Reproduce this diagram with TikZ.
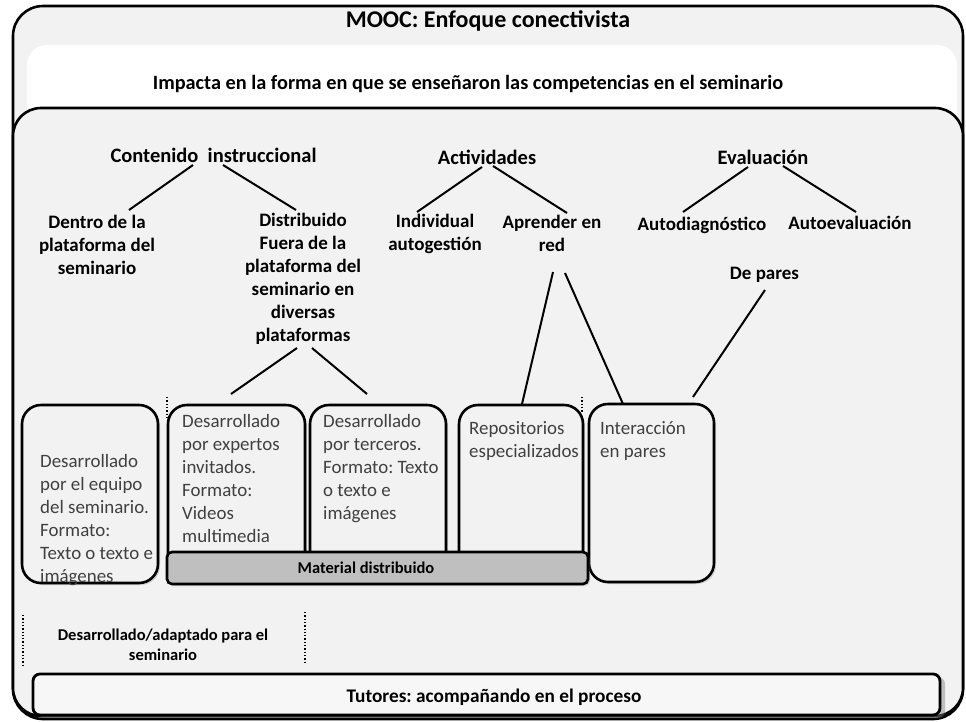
\documentclass[tikz,border=0pt]{standalone}
\usepackage{fontspec}
\setmainfont{Carlito}
\usetikzlibrary{shadows}
\definecolor{bggray}{HTML}{F2F2F2}
\definecolor{bargray}{HTML}{BFBFBF}
\definecolor{txtgray}{HTML}{404040}
\definecolor{tutfill}{HTML}{F7F7F7}
\frenchspacing
\begin{document}
\begin{tikzpicture}[x=1pt,y=-1pt,
  frame/.style={draw=black,line width=2.6pt,fill=bggray,rounded corners=30pt},
  card/.style={draw=black,line width=2.6pt,fill=bggray,rounded corners=19pt,inner sep=0pt,
    drop shadow={shadow xshift=2pt,shadow yshift=-2pt,opacity=0.3}},
  bar/.style={draw=black,line width=2.6pt,fill=bargray,rounded corners=5pt,inner sep=0pt,
    drop shadow={shadow xshift=2pt,shadow yshift=-2pt,opacity=0.3}},
  tutbox/.style={draw=black,line width=2.8pt,fill=tutfill,rounded corners=7pt,inner sep=0pt,
    drop shadow={shadow xshift=5pt,shadow yshift=-3pt,opacity=0.45}},
  ttl/.style={font=\bfseries\fontsize{24}{28}\selectfont,inner sep=0pt},
  imp/.style={font=\bfseries\fontsize{20.3}{24}\selectfont,inner sep=0pt},
  hd/.style={font=\bfseries\fontsize{19}{23}\selectfont,align=center,inner sep=0pt},
  hdbig/.style={font=\bfseries\fontsize{20.5}{24}\selectfont,align=center,inner sep=0pt},
  small/.style={font=\bfseries\fontsize{16.5}{20}\selectfont,align=center,inner sep=0pt},
  tuttxt/.style={font=\bfseries\fontsize{19.3}{23}\selectfont,inner sep=0pt},
  boxtxt/.style={font=\fontsize{18.9}{23}\selectfont,text=txtgray,align=left,inner sep=0pt,anchor=north west},
  conn/.style={draw=black,line width=2pt},
  dots/.style={draw=black,dotted,line width=1.3pt}
]
\useasboundingbox (0,0) rectangle (966,721);
% frames
\draw[frame] (13,6) rectangle (963,719);
\fill[white,rounded corners=20pt] (27,45) rectangle (957,150);
\draw[frame,rounded corners=28pt] (13,108) rectangle (963,716);

\node[ttl] (title) at (488,21) {MOOC: Enfoque conectivista};
\node[imp] (impact) at (468,84) {Impacta en la forma en que se enseñaron las competencias en el seminario};

% headings
\node[hdbig] (cont) at (213.5,155) {Contenido\ \ instruccional};
\node[hdbig] (act) at (487,157) {Actividades};
\node[hdbig] (eval) at (763,157) {Evaluación};

\node[hd] (dentro) at (97,245) {Dentro de la\\plataforma del\\seminario};
\node[hd] (distr) at (303,279) {Distribuido\\Fuera de la\\plataforma del\\seminario en\\diversas\\plataformas};
\node[hd] (indiv) at (435,233.5) {Individual\\autogestión};
\node[hd] (apred) at (552,233.5) {Aprender en\\red};
\node[hd] (autod) at (702,225) {Autodiagnóstico};
\node[hd] (autoe) at (850,223) {Autoevaluación};
\node[hd] (depares) at (764.5,275) {De pares};

% boxes
\node[card,minimum width=136pt,minimum height=178pt] (b1) at (90,494) {};
\node[card,minimum width=137pt,minimum height=170pt] (b2) at (236.5,490) {};
\node[card,minimum width=136pt,minimum height=170pt] (b3) at (378,490) {};
\node[card,minimum width=124pt,minimum height=170pt] (b4) at (521,490) {};
\node[card,minimum width=125pt,minimum height=178pt] (b5) at (651.5,493) {};
\node[bar,minimum width=421pt,minimum height=32pt] (mat) at (377.5,568) {};
\node[small] (mattxt) at (366,568) {Material distribuido};

\node[boxtxt] (t1) at (40,454) {Desarrollado\\por el equipo\\del seminario.\\Formato:\\Texto o texto e\\imágenes};
\node[boxtxt] (t2) at (182,414) {Desarrollado\\por expertos\\invitados.\\Formato:\\Videos\\multimedia};
\node[boxtxt] (t3) at (323,414) {Desarrollado\\por terceros.\\Formato: Texto\\o texto e\\imágenes};
\node[boxtxt] (t4) at (469,421) {Repositorios\\especializados};
\node[boxtxt] (t5) at (600,421) {Interacción\\en pares};

\node[small] (desad) at (163,645) {Desarrollado/adaptado para el\\seminario};
\node[tutbox,minimum width=907pt,minimum height=41pt] (tut) at (486.5,694.5) {};
\node[tuttxt] (tuttext) at (494,697) {Tutores: acompañando en el proceso};

% connector endpoints
\coordinate (c1a) at (193,165); \coordinate (c1b) at (129,210);
\coordinate (c2a) at (223,165); \coordinate (c2b) at (296,210);
\coordinate (c3a) at (482,167); \coordinate (c3b) at (417,212);
\coordinate (c4a) at (493,166); \coordinate (c4b) at (567,213);
\coordinate (c5a) at (748,167); \coordinate (c5b) at (683,212);
\coordinate (c6a) at (783,166); \coordinate (c6b) at (856,212);
\coordinate (c7a) at (297,348); \coordinate (c7b) at (231,394);
\coordinate (c8a) at (312,348); \coordinate (c8b) at (367,394);
\coordinate (c9a) at (553,272); \coordinate (c9b) at (522,404);
\coordinate (c10a) at (565,273); \coordinate (c10b) at (623,404);
\coordinate (c11a) at (765,290); \coordinate (c11b) at (693,397);
\draw[conn] (c1a) -- (c1b);
\draw[conn] (c2a) -- (c2b);
\draw[conn] (c3a) -- (c3b);
\draw[conn] (c4a) -- (c4b);
\draw[conn] (c5a) -- (c5b);
\draw[conn] (c6a) -- (c6b);
\draw[conn] (c7a) -- (c7b);
\draw[conn] (c8a) -- (c8b);
\draw[conn] (c9a) -- (c9b);
\draw[conn] (c10a) -- (c10b);
\draw[conn] (c11a) -- (c11b);

% dotted separators
\coordinate (d1a) at (167,397); \coordinate (d1b) at (167,420);
\coordinate (d2a) at (582,397); \coordinate (d2b) at (582,413);
\coordinate (d3a) at (23,615); \coordinate (d3b) at (23,665);
\coordinate (d4a) at (305,612); \coordinate (d4b) at (305,663);
\draw[dots] (d1a) -- (d1b);
\draw[dots] (d2a) -- (d2b);
\draw[dots] (d3a) -- (d3b);
\draw[dots] (d4a) -- (d4b);
\end{tikzpicture}
\end{document}
